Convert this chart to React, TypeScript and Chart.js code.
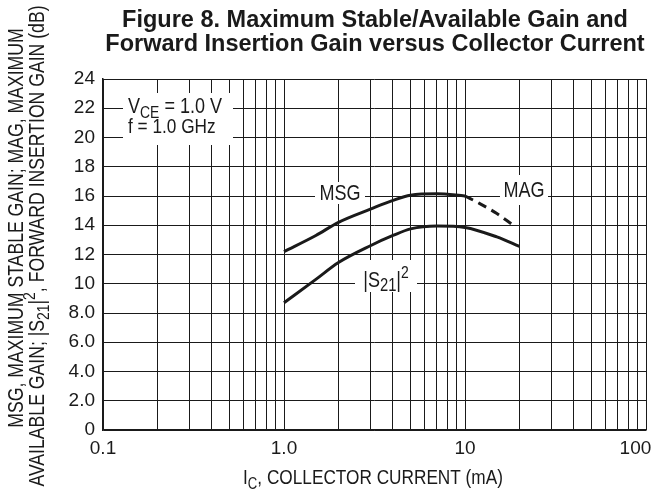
import React, { useEffect, useRef } from "react";
import { Chart, registerables } from "chart.js";

Chart.register(...registerables);

// ---- data ----
const MSG_CURRENT = [1.0, 1.5, 2, 3, 4, 5, 7, 10];
const MSG_GAIN = [12.2, 13.3, 14.2, 15.1, 15.7, 16.05, 16.15, 16.0];
const MAG_CURRENT = [10, 12, 15, 18];
const MAG_GAIN = [16.0, 15.5, 14.8, 14.1];
const S21_CURRENT = [1.0, 1.5, 2, 3, 4, 5, 7, 10, 15, 20];
const S21_GAIN = [8.7, 10.3, 11.45, 12.6, 13.3, 13.75, 13.95, 13.85, 13.2, 12.55];

const X_DECADES = [0.1, 1, 10];
const X_MULTIPLIERS = [1, 2, 3, 4, 5, 6, 7, 8, 9];
const X_MAX = 100;
const X_TICK_LABELS: Record<string, string> = {
  "0.1": "0.1",
  "1": "1.0",
  "10": "10",
  "100": "100\u2007\u2007",
};
const Y_MIN = 0;
const Y_MAX = 24;
const Y_STEP = 2;

const TITLE_LINES = [
  "Figure 8. Maximum Stable/Available Gain and",
  "Forward Insertion Gain versus Collector Current",
];

const SANS = "'Liberation Sans', Arial, sans-serif";
const NARROW_SCALE = 0.82;
const INK = "#1a1a1a";

type Seg = { t: string; size?: number; dy?: number };

function drawRich(
  ctx: CanvasRenderingContext2D,
  segs: Seg[],
  x: number,
  y: number,
  base: number,
  align: "left" | "center"
) {
  let total = 0;
  const widths = segs.map((s) => {
    ctx.font = `${s.size ?? base}px ${SANS}`;
    const w = ctx.measureText(s.t).width;
    total += w;
    return w;
  });
  ctx.save();
  ctx.translate(x, y);
  ctx.scale(NARROW_SCALE, 1);
  let cx = align === "center" ? -total / 2 : 0;
  ctx.textAlign = "left";
  ctx.textBaseline = "alphabetic";
  segs.forEach((s, i) => {
    ctx.font = `${s.size ?? base}px ${SANS}`;
    ctx.fillText(s.t, cx, s.dy ?? 0);
    cx += widths[i];
  });
  ctx.restore();
}

const overlayPlugin = {
  id: "overlay",
  afterDraw(chart: any) {
    const ctx: CanvasRenderingContext2D = chart.ctx;
    ctx.save();
    ctx.fillStyle = INK;

    // title
    ctx.font = `bold 23.5px ${SANS}`;
    ctx.textAlign = "center";
    ctx.textBaseline = "alphabetic";
    ctx.fillText(TITLE_LINES[0], 375, 27);
    ctx.fillText(TITLE_LINES[1], 375, 51);

    // white boxes for in-plot labels
    ctx.fillStyle = "#ffffff";
    ctx.fillRect(123, 93, 110, 52);
    ctx.fillRect(315, 182, 50, 22);
    ctx.fillRect(500, 175, 48, 30);
    ctx.fillRect(355, 260, 62, 32);
    ctx.fillStyle = INK;

    // conditions
    drawRich(ctx, [{ t: "V" }, { t: "CE", size: 17, dy: 5 }, { t: " = 1.0 V" }], 128, 113, 22, "left");
    drawRich(ctx, [{ t: "f = 1.0 GHz" }], 128, 133, 21, "left");

    // curve labels
    drawRich(ctx, [{ t: "MSG" }], 340, 200, 22, "center");
    drawRich(ctx, [{ t: "MAG" }], 524, 197, 22, "center");
    drawRich(
      ctx,
      [{ t: "|S" }, { t: "21", size: 18, dy: 4 }, { t: "|" }, { t: "2", size: 17, dy: -9 }],
      386,
      287,
      22,
      "center"
    );

    // x axis title
    drawRich(ctx, [{ t: "I" }, { t: "C", size: 16, dy: 5 }, { t: ", COLLECTOR CURRENT (mA)" }], 373, 484, 21, "center");

    // y axis title (two rotated lines)
    ctx.save();
    ctx.translate(23, 228);
    ctx.rotate(-Math.PI / 2);
    drawRich(ctx, [{ t: "MSG, MAXIMUM STABLE GAIN; MAG, MAXIMUM" }], 0, 0, 21.5, "center");
    ctx.restore();
    ctx.save();
    ctx.translate(44, 246);
    ctx.rotate(-Math.PI / 2);
    drawRich(
      ctx,
      [
        { t: "AVAILABLE GAIN; |S" },
        { t: "21", size: 17, dy: 5 },
        { t: "|" },
        { t: "2", size: 17, dy: -9 },
        { t: ", FORWARD INSERTION GAIN (dB)" },
      ],
      0,
      0,
      21.5,
      "center"
    );
    ctx.restore();

    ctx.restore();
  },
};

export default function App() {
  const ref = useRef<HTMLCanvasElement | null>(null);

  useEffect(() => {
    if (!ref.current) return;
    const xTickValues: number[] = [];
    X_DECADES.forEach((d) => X_MULTIPLIERS.forEach((m) => xTickValues.push(Math.round(d * m * 1000) / 1000)));
    xTickValues.push(X_MAX);

    const toPts = (xs: number[], ys: number[]) => xs.map((x, i) => ({ x, y: ys[i] }));
    const lineStyle = {
      borderColor: INK,
      borderWidth: 3,
      pointRadius: 0,
      fill: false,
      cubicInterpolationMode: "monotone" as const,
      borderCapStyle: "butt" as const,
    };

    const chart = new Chart(ref.current, {
      type: "line",
      data: {
        datasets: [
          { label: "MSG", data: toPts(MSG_CURRENT, MSG_GAIN), ...lineStyle },
          { label: "MAG", data: toPts(MAG_CURRENT, MAG_GAIN), ...lineStyle, borderDash: [9, 6] },
          { label: "|S21|²", data: toPts(S21_CURRENT, S21_GAIN), ...lineStyle },
        ],
      },
      options: {
        animation: false,
        responsive: false,
        devicePixelRatio: 1,
        layout: { padding: { left: 0, top: 79, right: 9, bottom: 0 } },
        plugins: { legend: { display: false }, title: { display: false }, tooltip: { enabled: false } },
        scales: {
          x: {
            type: "logarithmic",
            min: X_DECADES[0],
            max: X_MAX,
            afterBuildTicks: (scale: any) => {
              scale.ticks = xTickValues.map((v) => ({ value: v }));
            },
            afterFit: (scale: any) => {
              scale.height = 67;
              scale.paddingLeft = 0;
              scale.paddingRight = 0;
            },
            ticks: {
              autoSkip: false,
              maxRotation: 0,
              padding: 7,
              color: INK,
              font: { family: SANS, size: 19 },
              callback: (v: any) => X_TICK_LABELS[String(v)] ?? "",
            },
            grid: { color: INK, lineWidth: 1, drawTicks: false },
            border: { display: true, color: INK, width: 1.5 },
          },
          y: {
            type: "linear",
            min: Y_MIN,
            max: Y_MAX,
            afterFit: (scale: any) => {
              scale.width = 103;
              scale.paddingTop = 0;
              scale.paddingBottom = 0;
            },
            ticks: {
              stepSize: Y_STEP,
              padding: 8,
              color: INK,
              font: { family: SANS, size: 19 },
              callback: (v: any) => (v === 0 ? "0" : v < 10 ? Number(v).toFixed(1) : String(v)),
            },
            grid: { color: INK, lineWidth: 1, drawTicks: false },
            border: { display: true, color: INK, width: 1.5 },
          },
        },
      },
      plugins: [overlayPlugin],
    });
    return () => chart.destroy();
  }, []);

  return (
    <div style={{ position: "fixed", left: 0, top: 0, width: 655, height: 497, background: "#fff" }}>
      <canvas ref={ref} width={655} height={497} style={{ width: 655, height: 497, display: "block" }} />
    </div>
  );
}
